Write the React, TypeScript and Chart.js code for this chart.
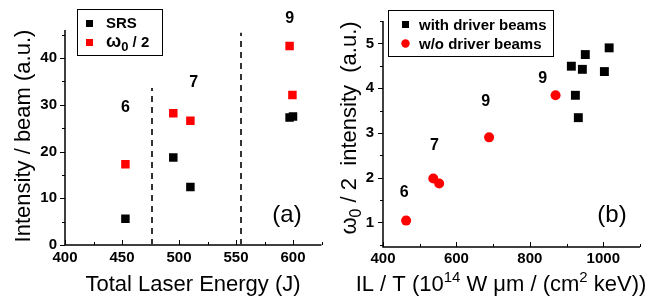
import React, { useEffect, useRef } from 'react';
import { Chart, registerables } from 'chart.js';

Chart.register(...registerables);

const FONT = '"Liberation Sans", Arial, Helvetica, sans-serif';

// ---------- Panel (a) data ----------
const A_SRS_X = [453, 495, 510, 597, 600];
const A_SRS_Y = [5.6, 18.7, 12.4, 27.3, 27.5];
const A_W2_X = [453, 495, 510, 597, 599.5];
const A_W2_Y = [17.3, 28.2, 26.6, 42.6, 32.1];
const A_DIVIDER_X = [476, 554];
const A_DIVIDER_TOP = [33.6, 45.4];
const A_NOTE_TEXT = ['6', '7', '9'];
const A_NOTE_X = [453, 513, 597];
const A_NOTE_Y = [29.5, 34.7, 48.5];
const A_X_TICKS = [400, 450, 500, 550, 600];
const A_Y_TICKS = [0, 10, 20, 30, 40];

// ---------- Panel (b) data ----------
const B_WITH_X = [913, 943, 951, 1003, 1016, 924, 932];
const B_WITH_Y = [4.49, 4.42, 4.75, 4.37, 4.9, 3.84, 3.34];
const B_WO_X = [463, 537, 553, 689, 870];
const B_WO_Y = [1.04, 1.98, 1.87, 2.9, 3.84];
const B_NOTE_TEXT = ['6', '7', '9', '9'];
const B_NOTE_X = [458, 540, 680, 835];
const B_NOTE_Y = [1.66, 2.72, 3.69, 4.21];
const B_X_TICKS = [400, 600, 800, 1000];
const B_Y_TICKS = [1, 2, 3, 4, 5];

type Seg = { t: string; f: string; dy?: number };

function drawRich(ctx: CanvasRenderingContext2D, segs: Seg[], x: number, y: number, align: 'left' | 'center', rot = 0) {
  ctx.save();
  ctx.translate(x, y);
  if (rot) ctx.rotate(rot);
  ctx.textBaseline = 'alphabetic';
  ctx.textAlign = 'left';
  ctx.fillStyle = '#000';
  let total = 0;
  const widths = segs.map((s) => {
    ctx.font = s.f;
    const w = ctx.measureText(s.t).width;
    total += w;
    return w;
  });
  let cx = align === 'center' ? -total / 2 : 0;
  segs.forEach((s, i) => {
    ctx.font = s.f;
    ctx.fillText(s.t, cx, s.dy || 0);
    cx += widths[i];
  });
  ctx.restore();
}

const f = (size: number, bold = false) => `${bold ? 'bold ' : ''}${size}px ${FONT}`;

type AxisCfg = { xStart: number; xStep: number; xMajor: number; yStart: number; yStep: number; yMajor: number };

function isMajor(v: number, major: number) {
  return Math.abs(v / major - Math.round(v / major)) < 1e-6;
}

function makeDecor(axis: AxisCfg, extra: (ctx: CanvasRenderingContext2D, chart: any) => void) {
  return {
    id: 'decor',
    afterDraw(chart: any) {
      const ctx: CanvasRenderingContext2D = chart.ctx;
      const xs = chart.scales.x;
      const ys = chart.scales.y;
      const { left, right, top, bottom } = chart.chartArea;
      ctx.save();
      ctx.strokeStyle = '#000';
      ctx.lineWidth = 1.5;
      ctx.beginPath();
      ctx.moveTo(left, top);
      ctx.lineTo(left, bottom);
      ctx.lineTo(right, bottom);
      ctx.stroke();
      ctx.lineWidth = 1;
      ctx.beginPath();
      for (let k = 0; ; k++) {
        const v = axis.yStart + k * axis.yStep;
        if (v > ys.max + 1e-9) break;
        const p = Math.round(ys.getPixelForValue(v)) + 0.5;
        ctx.moveTo(left, p);
        ctx.lineTo(left - (isMajor(v, axis.yMajor) ? 5 : 3), p);
      }
      for (let k = 0; ; k++) {
        const v = axis.xStart + k * axis.xStep;
        if (v > xs.max + 1e-9) break;
        const p = Math.round(xs.getPixelForValue(v)) + 0.5;
        ctx.moveTo(p, bottom);
        ctx.lineTo(p, bottom - (isMajor(v, axis.xMajor) ? 5 : 3));
      }
      ctx.stroke();
      ctx.restore();
      extra(ctx, chart);
    },
  };
}

function tickFont() {
  return { family: FONT, size: 15, weight: 'bold' as const };
}

const plainLabel = (v: any) => String(v);

function makeChartA(canvas: HTMLCanvasElement) {
  const decor = makeDecor(
    { xStart: 400, xStep: 25, xMajor: 50, yStart: 0, yStep: 5, yMajor: 10 },
    (ctx, chart) => {
      const xs = chart.scales.x;
      const ys = chart.scales.y;
      const bottom = chart.chartArea.bottom;
      ctx.save();
      // dividers
      ctx.strokeStyle = '#333';
      ctx.lineWidth = 2;
      ctx.setLineDash([6, 5]);
      A_DIVIDER_X.forEach((xv, i) => {
        const px = Math.round(xs.getPixelForValue(xv));
        ctx.beginPath();
        ctx.moveTo(px, bottom);
        ctx.lineTo(px, ys.getPixelForValue(A_DIVIDER_TOP[i]));
        ctx.stroke();
      });
      ctx.setLineDash([]);
      // notes
      ctx.fillStyle = '#000';
      ctx.font = f(16, true);
      ctx.textAlign = 'center';
      ctx.textBaseline = 'middle';
      A_NOTE_TEXT.forEach((t, i) => ctx.fillText(t, xs.getPixelForValue(A_NOTE_X[i]), ys.getPixelForValue(A_NOTE_Y[i])));
      // legend
      ctx.strokeStyle = '#000';
      ctx.lineWidth = 1;
      ctx.strokeRect(77.5, 9.5, 85, 46);
      ctx.fillStyle = '#000';
      ctx.fillRect(86, 20, 7, 7);
      ctx.fillStyle = '#ff0000';
      ctx.fillRect(86, 39, 7, 7);
      drawRich(ctx, [{ t: 'SRS', f: f(15, true) }], 106, 28, 'left');
      drawRich(ctx, [
        { t: 'ω', f: f(18, true) },
        { t: '0', f: f(13, true), dy: 4 },
        { t: ' / 2', f: f(15, true) },
      ], 106, 47, 'left');
      // panel label
      drawRich(ctx, [{ t: '(a)', f: f(24) }], 287, 222, 'center');
      // axis titles
      drawRich(ctx, [{ t: 'Total Laser Energy (J)', f: f(22) }], 193, 291, 'center');
      drawRich(ctx, [{ t: 'Intensity / beam (a.u.)', f: f(22) }], 30, 136, 'center', -Math.PI / 2);
      ctx.restore();
    }
  );
  return new Chart(canvas, {
    type: 'scatter',
    data: {
      datasets: [
        {
          label: 'SRS',
          data: A_SRS_X.map((x, i) => ({ x, y: A_SRS_Y[i] })),
          pointStyle: 'rect',
          pointRadius: 6,
          backgroundColor: '#000',
          borderColor: '#000',
          borderWidth: 0,
        },
        {
          label: 'ω0 / 2',
          data: A_W2_X.map((x, i) => ({ x, y: A_W2_Y[i] })),
          pointStyle: 'rect',
          pointRadius: 6,
          backgroundColor: '#ff0000',
          borderColor: '#ff0000',
          borderWidth: 0,
        },
      ],
    },
    options: {
      responsive: false,
      animation: false,
      devicePixelRatio: 1,
      layout: { padding: { left: 0, top: 30, right: 8.5, bottom: 0 } },
      plugins: { legend: { display: false }, tooltip: { enabled: false } },
      scales: {
        x: {
          type: 'linear',
          min: 400,
          max: 625,
          grid: { display: false, drawTicks: false },
          border: { display: false },
          afterBuildTicks: (s: any) => { s.ticks = A_X_TICKS.map((v) => ({ value: v })); },
          ticks: { autoSkip: false, maxRotation: 0, padding: 4, color: '#000', font: tickFont(), callback: plainLabel },
          afterFit: (s: any) => { s.height = 54; s.paddingLeft = 0; s.paddingRight = 0; },
        },
        y: {
          type: 'linear',
          min: 0,
          max: 46,
          grid: { display: false, drawTicks: false },
          border: { display: false },
          afterBuildTicks: (s: any) => { s.ticks = A_Y_TICKS.map((v) => ({ value: v })); },
          ticks: { autoSkip: false, padding: 8, color: '#000', font: tickFont(), callback: plainLabel },
          afterFit: (s: any) => { s.width = 65; s.paddingTop = 0; s.paddingBottom = 0; },
        },
      },
    } as any,
    plugins: [decor],
  });
}

function makeChartB(canvas: HTMLCanvasElement) {
  const decor = makeDecor(
    { xStart: 400, xStep: 100, xMajor: 200, yStart: 0.5, yStep: 0.5, yMajor: 1 },
    (ctx, chart) => {
      const xs = chart.scales.x;
      const ys = chart.scales.y;
      ctx.save();
      ctx.fillStyle = '#000';
      ctx.font = f(16, true);
      ctx.textAlign = 'center';
      ctx.textBaseline = 'middle';
      B_NOTE_TEXT.forEach((t, i) => ctx.fillText(t, xs.getPixelForValue(B_NOTE_X[i]), ys.getPixelForValue(B_NOTE_Y[i])));
      // legend
      ctx.strokeStyle = '#000';
      ctx.lineWidth = 1;
      ctx.strokeRect(68.5, 10.5, 165, 46);
      ctx.fillStyle = '#000';
      ctx.fillRect(82, 21, 7, 7);
      ctx.fillStyle = '#ff0000';
      ctx.beginPath();
      ctx.arc(85.5, 43.5, 4.2, 0, Math.PI * 2);
      ctx.fill();
      drawRich(ctx, [{ t: 'with driver beams', f: f(15, true) }], 99, 29.5, 'left');
      drawRich(ctx, [{ t: 'w/o driver beams', f: f(15, true) }], 99, 49, 'left');
      // panel label
      drawRich(ctx, [{ t: '(b)', f: f(24) }], 292, 222, 'center');
      // axis titles
      drawRich(ctx, [
        { t: 'IL / T (10', f: f(22) },
        { t: '14', f: f(15), dy: -9 },
        { t: ' W μm / (cm', f: f(22) },
        { t: '2', f: f(15), dy: -9 },
        { t: ' keV))', f: f(22) },
      ], 181, 291, 'center');
      drawRich(ctx, [
        { t: 'ω', f: f(22) },
        { t: '0', f: f(16), dy: 5 },
        { t: ' / 2  intensity  (a.u.)', f: f(22) },
      ], 36, 128, 'center', -Math.PI / 2);
      ctx.restore();
    }
  );
  return new Chart(canvas, {
    type: 'scatter',
    data: {
      datasets: [
        {
          label: 'with driver beams',
          data: B_WITH_X.map((x, i) => ({ x, y: B_WITH_Y[i] })),
          pointStyle: 'rect',
          pointRadius: 6.3,
          backgroundColor: '#000',
          borderColor: '#000',
          borderWidth: 0,
        },
        {
          label: 'w/o driver beams',
          data: B_WO_X.map((x, i) => ({ x, y: B_WO_Y[i] })),
          pointStyle: 'circle',
          pointRadius: 5,
          backgroundColor: '#ff0000',
          borderColor: '#ff0000',
          borderWidth: 0,
        },
      ],
    },
    options: {
      responsive: false,
      animation: false,
      devicePixelRatio: 1,
      layout: { padding: { left: 0, top: 21, right: 9, bottom: 0 } },
      plugins: { legend: { display: false }, tooltip: { enabled: false } },
      scales: {
        x: {
          type: 'linear',
          min: 400,
          max: 1100,
          grid: { display: false, drawTicks: false },
          border: { display: false },
          afterBuildTicks: (s: any) => { s.ticks = B_X_TICKS.map((v) => ({ value: v })); },
          ticks: { autoSkip: false, maxRotation: 0, padding: 3, color: '#000', font: tickFont(), callback: plainLabel },
          afterFit: (s: any) => { s.height = 52; s.paddingLeft = 0; s.paddingRight = 0; },
        },
        y: {
          type: 'linear',
          min: 0.45,
          max: 5.5,
          grid: { display: false, drawTicks: false },
          border: { display: false },
          afterBuildTicks: (s: any) => { s.ticks = B_Y_TICKS.map((v) => ({ value: v })); },
          ticks: { autoSkip: false, padding: 9, color: '#000', font: tickFont(), callback: plainLabel },
          afterFit: (s: any) => { s.width = 63; s.paddingTop = 0; s.paddingBottom = 0; },
        },
      },
    } as any,
    plugins: [decor],
  });
}

export default function App() {
  const refA = useRef<HTMLCanvasElement | null>(null);
  const refB = useRef<HTMLCanvasElement | null>(null);

  useEffect(() => {
    if (!refA.current || !refB.current) return;
    const a = makeChartA(refA.current);
    const b = makeChartB(refB.current);
    return () => {
      a.destroy();
      b.destroy();
    };
  }, []);

  return (
    <div style={{ position: 'absolute', left: 0, top: 0, width: 649, height: 299, background: '#fff', overflow: 'hidden' }}>
      <canvas ref={refA} width={330} height={299} style={{ position: 'absolute', left: 0, top: 0, width: 330, height: 299 }} />
      <canvas ref={refB} width={329} height={299} style={{ position: 'absolute', left: 320, top: 0, width: 329, height: 299 }} />
    </div>
  );
}
